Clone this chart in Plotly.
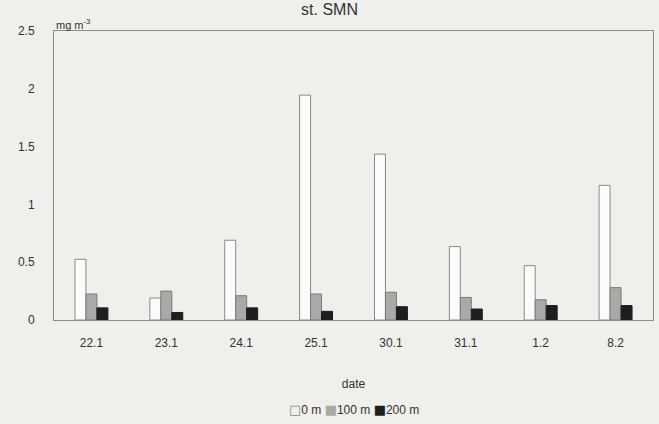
import plotly.graph_objects as go

dates = ["22.1", "23.1", "24.1", "25.1", "30.1", "31.1", "1.2", "8.2"]
depth_0m = [0.525, 0.19, 0.69, 1.945, 1.435, 0.635, 0.47, 1.165]
depth_100m = [0.225, 0.25, 0.21, 0.225, 0.24, 0.195, 0.175, 0.28]
depth_200m = [0.105, 0.065, 0.105, 0.075, 0.115, 0.095, 0.125, 0.125]

series = [
    ("0 m", depth_0m, "#fbfbf9", "#8a8a8a"),
    ("100 m", depth_100m, "#a9a9a6", "#7a7a7a"),
    ("200 m", depth_200m, "#1e1e1e", "#1e1e1e"),
]

bg = "#efefeb"
font = "Liberation Sans, Arial, sans-serif"

fig = go.Figure()
for name, vals, fill, edge in series:
    fig.add_bar(x=dates, y=vals, name=name,
                marker=dict(color=fill, line=dict(color=edge, width=1)))

fig.update_layout(
    width=659, height=424,
    paper_bgcolor=bg, plot_bgcolor=bg,
    font=dict(family=font, size=12, color="#333"),
    margin=dict(l=54, r=6, t=31, b=104, autoexpand=False),
    barmode="group", bargap=0.56, bargroupgap=0,
    title=dict(text="st. SMN", x=0.5, xanchor="center", y=0.99, yanchor="top",
               font=dict(size=16, color="#333")),
    showlegend=False,
    xaxis=dict(showline=True, linecolor="#8c8c8c", linewidth=1, mirror=True,
               ticks="", showgrid=False, ticklabelstandoff=12,
               title=dict(text="date", font=dict(size=12), standoff=30)),
    yaxis=dict(range=[0, 2.5], dtick=0.5, showline=True, linecolor="#8c8c8c",
               linewidth=1, mirror=True, ticks="", showgrid=False, zeroline=False,
               tickformat="~g", ticklabelstandoff=16),
)

# unit label above the value axis
fig.add_annotation(text="mg m<sup>-3</sup>", xref="paper", yref="paper",
                   x=0.0, y=1.0, xanchor="left", yanchor="bottom", yshift=-2,
                   showarrow=False, font=dict(size=11, color="#333"))

# compact key below the axis title
key = " ".join(
    f"<span style=\"font-family:'DejaVu Sans';font-size:13px;"
    f"color:{edge if name == '0 m' else fill}\">"
    f"{'□' if name == '0 m' else '■'}</span>{name}"
    for name, _, fill, edge in series
)
fig.add_annotation(text=key, xref="paper", yref="paper", x=0.5, y=-0.31,
                   xanchor="center", yanchor="middle", showarrow=False,
                   font=dict(size=12, color="#333"))

fig.write_html("out.html")
